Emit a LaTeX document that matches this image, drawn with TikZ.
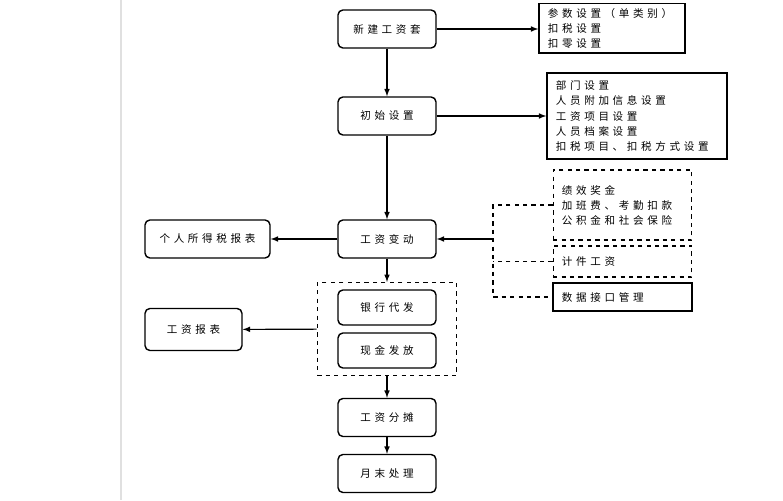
\documentclass[tikz,border=0pt]{standalone}
\usepackage{fontspec}
\usepackage{tikz}
\usetikzlibrary{fit}
\newfontfamily\cjk[LetterSpace=35]{Noto Sans CJK SC}

\begin{document}
\begin{tikzpicture}[
    box/.style={rectangle, draw, line width=1pt, rounded corners=3.5pt, minimum width=2.45cm, minimum height=0.95cm, align=center, font=\cjk\fontsize{7.5}{10.7}\selectfont},
    listbox/.style={rectangle, draw, line width=1pt, inner xsep=0.22cm, align=left, font=\cjk\fontsize{7.5}{10.7}\selectfont},
    dashbox/.style={listbox, dashed, line width=0.8pt},
    arrow/.style={->, >=latex, line width=0.8pt}
]
\useasboundingbox (0,0) rectangle (19.575,12.5);

% page edge
\draw[black!12, line width=1pt] (3.025,0) -- (3.025,12.5);

% main column
\node[box] (xinjian) at (9.675,11.775) {新建工资套};
\node[box] (chushi) at (9.675,9.6) {初始设置};
\node[box] (biandong) at (9.675,6.525) {工资变动};
\node[box, minimum height=0.875cm] (yinhang) at (9.675,4.8125) {银行代发};
\node[box, minimum height=0.875cm] (xianjin) at (9.675,3.7375) {现金发放};
\node[box] (fentan) at (9.675,2.0625) {工资分摊};
\node[box] (yuemo) at (9.675,0.6625) {月末处理};

% payment group
\node[draw, dashed, line width=0.8pt, inner xsep=0.5cm, inner ysep=0.17cm, fit=(yinhang)(xianjin)] (fafang) {};

% reports on the left
\node[box, minimum width=3.125cm] (geshui) at (5.1875,6.525) {个人所得税报表};
\node[box, minimum width=2.425cm, minimum height=1.05cm] (baobiao) at (4.8375,4.2625) {工资报表};

% settings on the right
\node[listbox, text width=3.21cm, minimum height=1.175cm] (canshu) at (15.3,11.7875) {参数设置（单类别）\\扣税设置\\扣零设置};
\node[listbox, text width=4.06cm, minimum height=2.15cm] (bumen) at (15.925,9.6) {部门设置\\人员附加信息设置\\工资项目设置\\人员档案设置\\扣税项目、扣税方式设置};

% inputs to salary changes
\node[dashbox, text width=3.03cm, minimum height=1.75cm] (jixiao) at (15.5625,7.375) {绩效奖金\\加班费、考勤扣款\\公积金和社会保险};
\node[dashbox, text width=3.03cm, minimum height=0.775cm] (jijian) at (15.5625,5.9625) {计件工资};
\node[listbox, text width=3.03cm, minimum height=0.7cm] (shuju) at (15.5625,5.075) {数据接口管理};
\coordinate (brk) at (12.325,6.525);

% Arrows
\draw[arrow] (xinjian) -- (chushi);
\draw[arrow] (chushi) -- (biandong);
\draw[arrow] (biandong) -- (fafang);
\draw[arrow] (fafang) -- (fentan);
\draw[arrow] (fentan) -- (yuemo);
\draw[arrow] (xinjian) -- (canshu.west |- xinjian);
\draw[arrow] (chushi) -- (bumen);
\draw[arrow] (biandong) -- (geshui);
\draw[arrow] (fafang) -- (baobiao);
\draw[dashed, line width=0.8pt] (jixiao.west) -| (brk) |- (shuju.west);
\draw[dashed, line width=0.8pt] (jijian.west) -- (jijian.west -| brk);
\draw[arrow] (brk) -- (biandong);

\end{tikzpicture}
\end{document}
